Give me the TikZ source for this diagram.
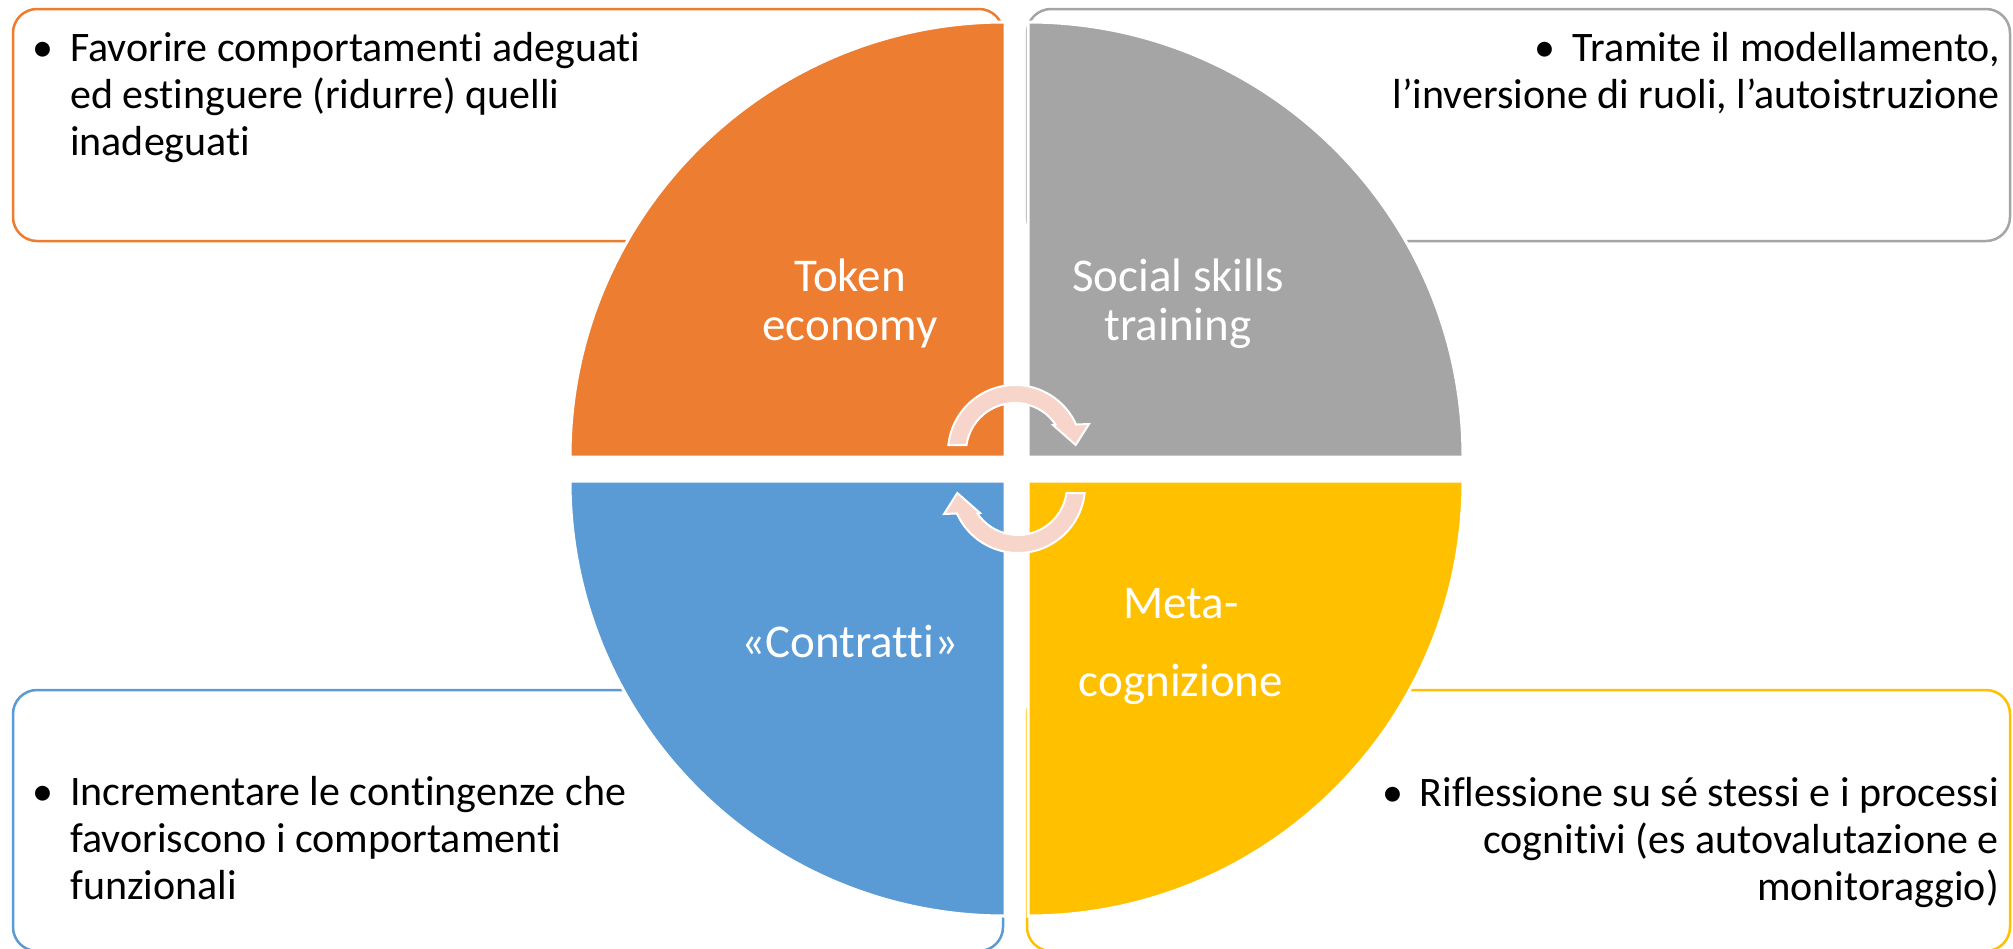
\documentclass[tikz,border=0pt]{standalone}
\usepackage{fontspec}
\setmainfont{Carlito}[Ligatures={NoCommon,NoContextual},RawFeature={-liga;-clig;-calt;-dlig}]
\definecolor{cOrange}{HTML}{ED7D31}
\definecolor{cGray}{HTML}{A5A5A5}
\definecolor{cBlue}{HTML}{5B9BD5}
\definecolor{cYellow}{HTML}{FFC000}
\definecolor{cArrow}{HTML}{F7D5CA}
\begin{document}
\begin{tikzpicture}[x=1pt,y=-1pt,
  box/.style={line width=2.5pt, rounded corners=24pt, fill=white},
  quad/.style={draw=white, line width=3pt},
  side/.style={inner sep=0pt, font=\fontsize{42}{47}\selectfont, text=black},
  qlabel/.style={inner sep=0pt, font=\fontsize{47}{49}\selectfont, text=white},
  cyc/.style={fill=cArrow, draw=white, line width=2pt, line join=miter}]
\useasboundingbox (0,0) rectangle (2013,948);
% description boxes
\draw[box, draw=cOrange] (13,9) rectangle (1003,241);
\draw[box, draw=cGray] (1027,9) rectangle (2010,241);
\draw[box, draw=cBlue] (13,690) rectangle (1003,951);
\draw[box, draw=cYellow] (1027,690) rectangle (2010,951);
% quadrants
\filldraw[quad, fill=cOrange] (1005,457) -- ++(-435,0) arc[start angle=180, end angle=270, radius=435] -- cycle;
\filldraw[quad, fill=cGray] (1028,457) -- ++(0,-435) arc[start angle=270, end angle=360, radius=435] -- cycle;
\filldraw[quad, fill=cYellow] (1028,481) -- ++(435,0) arc[start angle=0, end angle=90, radius=435] -- cycle;
\filldraw[quad, fill=cBlue] (1005,481) -- ++(0,435) arc[start angle=90, end angle=180, radius=435] -- cycle;
% cycle arrows
\begin{scope}[shift={(1015,452)}, yscale=-1]
\filldraw[cyc] (171.8:49) -- (174:67) arc[start angle=174, end angle=24.2, radius=67] -- (74,28) -- (60.7,7) -- (38,27) -- (34.1:49) arc[start angle=34.1, end angle=171.8, radius=49] -- cycle;
\end{scope}
\begin{scope}[rotate around={180:(1016.5,469)}]
\begin{scope}[shift={(1015,452)}, yscale=-1]
\filldraw[cyc] (171.8:49) -- (174:67) arc[start angle=174, end angle=24.2, radius=67] -- (74,28) -- (60.7,7) -- (38,27) -- (34.1:49) arc[start angle=34.1, end angle=171.8, radius=49] -- cycle;
\end{scope}
\end{scope}
% quadrant labels
\node[qlabel, anchor=base] (token) at (850,291.7) {\begin{tabular}[t]{@{}c@{}}Token\\economy\end{tabular}};
\node[qlabel, anchor=base] (social) at (1178,291.7) {\begin{tabular}[t]{@{}c@{}}Social skills\\training\end{tabular}};
\node[qlabel, anchor=base] (contratti) at (850,657) {«Contratti»};
\node[qlabel, anchor=base] (meta) at (1181,618) {\begin{tabular}[t]{@{}c@{}}Meta-\\[29pt]cognizione\end{tabular}};
% descriptions
\node[side, anchor=base west] (dtoken) at (42.7,61.7) {\begin{tabular}[t]{@{}l@{}}\makebox[0pt]{•}\hspace{27.3pt}Favorire comportamenti adeguati\\ \hspace{27.3pt}ed estinguere (ridurre) quelli\\ \hspace{27.3pt}inadeguati\end{tabular}};
\node[side, anchor=base east] (dsocial) at (2000,61.7) {\begin{tabular}[t]{@{}r@{}}\makebox[0pt]{•}\hspace{27.3pt}Tramite il modellamento,\\ l’inversione di ruoli, l’autoistruzione\end{tabular}};
\node[side, anchor=base west] (dcontratti) at (42.7,805) {\begin{tabular}[t]{@{}l@{}}\makebox[0pt]{•}\hspace{27.3pt}Incrementare le contingenze che\\ \hspace{27.3pt}favoriscono i comportamenti\\ \hspace{27.3pt}funzionali\end{tabular}};
\node[side, anchor=base east] (dmeta) at (1999,806.7) {\begin{tabular}[t]{@{}r@{}}\makebox[0pt]{•}\hspace{27.3pt}Riflessione su sé stessi e i processi\\ cognitivi (es autovalutazione e\\ monitoraggio)\end{tabular}};
\end{tikzpicture}
\end{document}
